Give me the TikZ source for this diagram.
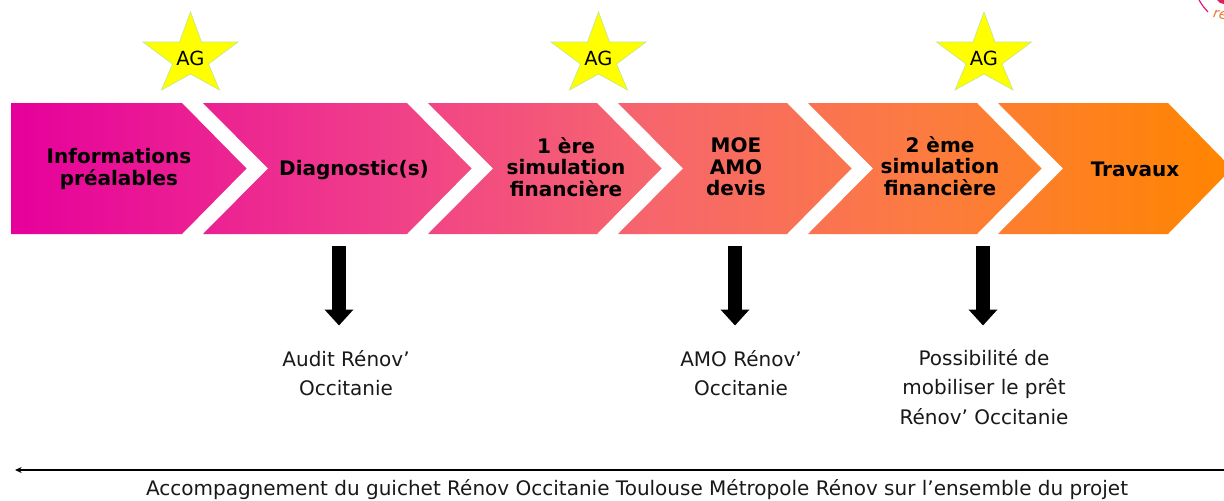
\documentclass[tikz,border=0pt]{standalone}
\usepackage{fontspec}
\setmainfont{DejaVu Sans}
\usetikzlibrary{arrows.meta}
\definecolor{starfill}{HTML}{FFFF00}
\definecolor{starline}{HTML}{C4E88A}
\pgfdeclarehorizontalshading{chevgrad}{100bp}{
  rgb(0bp)=(0.902,0,0.608);
  rgb(25bp)=(0.902,0,0.608);
  rgb(40bp)=(0.941,0.239,0.545);
  rgb(51bp)=(0.965,0.396,0.431);
  rgb(62.5bp)=(0.988,0.482,0.255);
  rgb(75bp)=(1,0.522,0);
  rgb(100bp)=(1,0.522,0)}
\tikzset{
  x=0.75pt,y=-0.75pt,
  steplabel/.style={font=\fontsize{15pt}{16.2pt}\selectfont\bfseries,align=center,text=black,inner sep=0pt},
  note/.style={font=\fontsize{15pt}{22pt}\selectfont,align=center,text=black!90,inner sep=0pt},
  ag/.style={font=\fontsize{14.6pt}{16pt}\selectfont,text=black,inner sep=0pt},
  bigarrow/.style={line width=10.5pt,black,-{Triangle[width=21pt,length=12pt]}},
  starshape/.style={fill=starfill,draw=starline,line width=0.5pt,line join=miter},
}
\newcommand{\agstar}[2]{%
  \draw[starshape] (#1,#2-47) -- (#1+11,#2-17) -- (#1+47.5,#2-17) -- (#1+18,#2+5) -- (#1+29,#2+31) -- (#1,#2+15) -- (#1-29,#2+31) -- (#1-18,#2+5) -- (#1-47.5,#2-17) -- (#1-11,#2-17) -- cycle;
}
\begin{document}
\begin{tikzpicture}
\useasboundingbox (0,0) rectangle (1224,500);
\fill[white] (0,0) rectangle (1224,500);
\begin{scope}
  \clip (11,103) -- (182,103) -- (246.5,168.5) -- (182,234) -- (11,234) -- cycle
        (203,103) -- (407,103) -- (471.5,168.5) -- (407,234) -- (203,234) -- (268,168.5) -- cycle
        (428,103) -- (597,103) -- (661.5,168.5) -- (597,234) -- (428,234) -- (493,168.5) -- cycle
        (618,103) -- (787,103) -- (851.5,168.5) -- (787,234) -- (618,234) -- (683,168.5) -- cycle
        (808,103) -- (977,103) -- (1041.5,168.5) -- (977,234) -- (808,234) -- (873,168.5) -- cycle
        (998,103) -- (1168,103) -- (1232,168.5) -- (1168,234) -- (998,234) -- (1063,168.5) -- cycle;
  \shade[shading=chevgrad] (11,103) rectangle (1224,234);
\end{scope}
\agstar{190.5}{59}
\agstar{598.5}{59}
\agstar{984}{59}
\node[ag] (ag1) at (190.5,58) {AG};
\node[ag] (ag2) at (598.5,58) {AG};
\node[ag] (ag3) at (984,58) {AG};
\node[steplabel] (s1) at (119,169) {Informations\\préalables};
\node[steplabel] (s2) at (354,170) {Diagnostic(s)};
\node[steplabel] (s3) at (566,167) {1 ère\\simulation\\financière};
\node[steplabel] (s4) at (736,167) {MOE\\AMO\\devis};
\node[steplabel] (s5) at (940,166) {2 ème\\simulation\\financière};
\node[steplabel] (s6) at (1135,169) {Travaux};
\coordinate (a1s) at (339,246); \coordinate (a1e) at (339,325.5);
\coordinate (a2s) at (735,246); \coordinate (a2e) at (735,325.5);
\coordinate (a3s) at (983,246); \coordinate (a3e) at (983,325.5);
\draw[bigarrow] (a1s) -- (a1e);
\draw[bigarrow] (a2s) -- (a2e);
\draw[bigarrow] (a3s) -- (a3e);
\node[note] (n1) at (346,373) {Audit Rénov’\\Occitanie};
\node[note] (n2) at (741,373) {AMO Rénov’\\Occitanie};
\node[note] (n3) at (984,387) {Possibilité de\\mobiliser le prêt\\Rénov’ Occitanie};
\coordinate (ls) at (1224,470); \coordinate (le) at (15,470);
\draw[line width=0.9pt,black,-{Stealth[length=5pt,width=4.5pt]}] (ls) -- (le);
\node[note] (foot) at (637,490) {Accompagnement du guichet Rénov Occitanie Toulouse Métropole Rénov sur l’ensemble du projet};
\draw[line width=0.9pt,color={rgb,255:red,225;green,20;blue,130}] (1199,0) .. controls (1202,5) and (1205,9) .. (1208,12);
\fill[color={rgb,255:red,225;green,30;blue,90}] (1217,0) -- (1224,0) -- (1224,4) -- (1220,3) -- cycle;
\node[anchor=west,inner sep=0pt,rotate=-10,font=\fontsize{10.5pt}{12pt}\selectfont\itshape,text={rgb,255:red,235;green,120;blue,40}] (re) at (1213,14) {re};
\end{tikzpicture}
\end{document}
